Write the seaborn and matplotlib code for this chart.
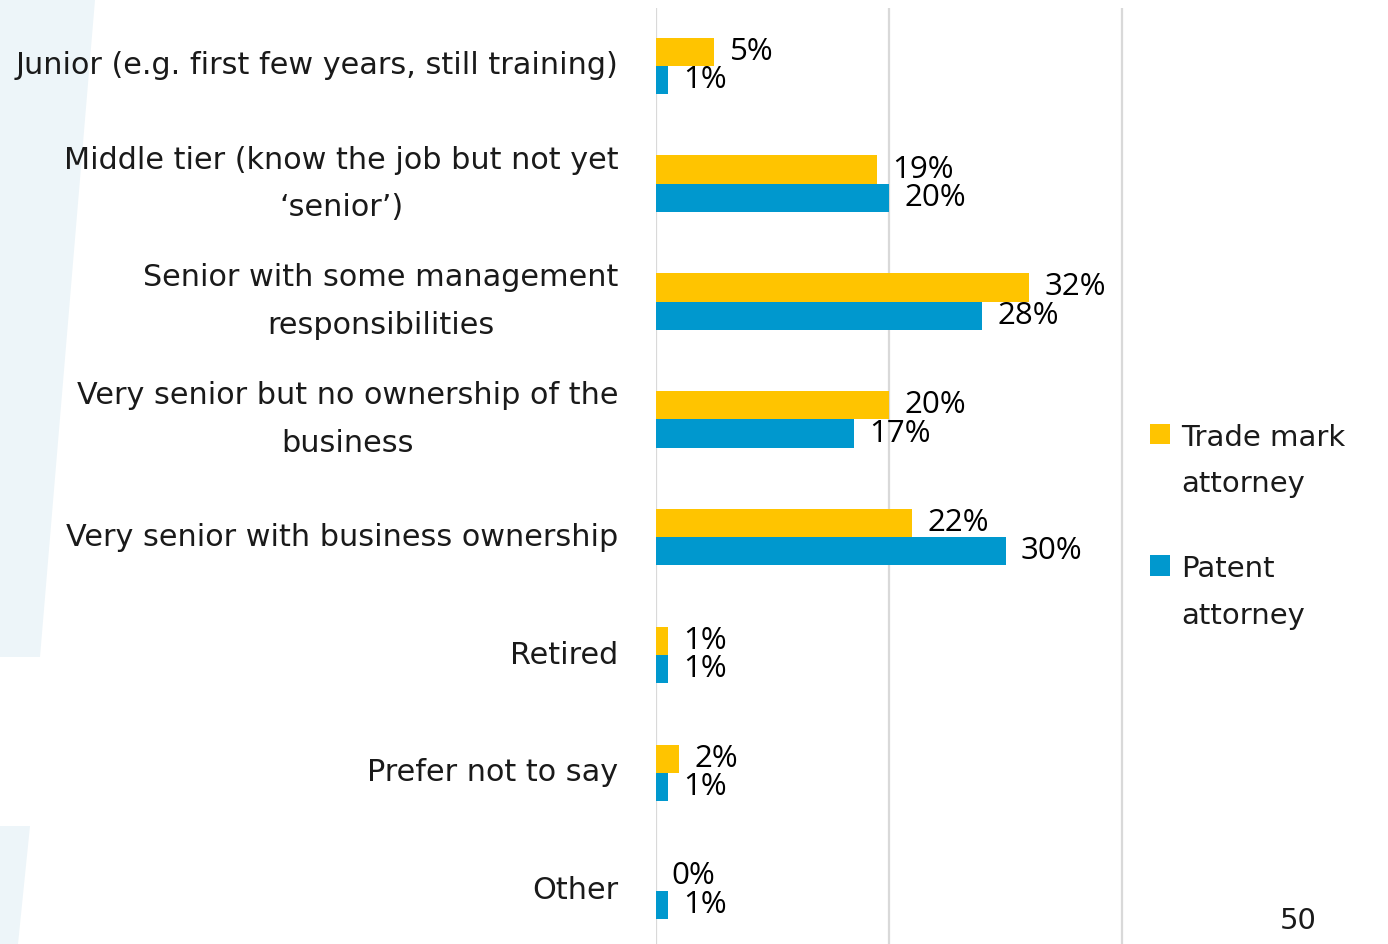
import matplotlib
matplotlib.use("Agg")
import matplotlib.pyplot as plt
from matplotlib.patches import Polygon
import seaborn as sns
import pandas as pd

categories = [
    "Junior (e.g. first few years, still training)",
    "Middle tier (know the job but not yet\n\u2018senior\u2019)",
    "Senior with some management\nresponsibilities",
    "Very senior but no ownership of the\nbusiness",
    "Very senior with business ownership",
    "Retired",
    "Prefer not to say",
    "Other",
]
trade_mark = [5, 19, 32, 20, 22, 1, 2, 0]
patent = [1, 20, 28, 17, 30, 1, 1, 1]
series_names = ["Trade mark\nattorney", "Patent\nattorney"]
colors = ["#FFC400", "#0098CE"]
page_number = "50"

sns.set_theme(style="white")
plt.rcParams["font.family"] = ["DejaVu Sans"]
TEXT = "#1a1a1a"

df = pd.DataFrame({
    "category": categories * 2,
    "value": [v / 100 for v in trade_mark] + [v / 100 for v in patent],
    "series": [series_names[0]] * len(categories) + [series_names[1]] * len(categories),
})

fig = plt.figure(figsize=(13.88, 9.44), dpi=100)

# light decorative band on the left edge, behind everything
W, H = 1388, 944
band_top = Polygon([(0, 1), (95 / W, 1), (40 / W, 1 - 657 / H), (0, 1 - 657 / H)],
                   closed=True, transform=fig.transFigure, facecolor="#EDF5F9",
                   edgecolor="none", zorder=-5)
band_bottom = Polygon([(0, 1 - 826 / H), (30 / W, 1 - 826 / H), (18 / W, 0), (0, 0)],
                      closed=True, transform=fig.transFigure, facecolor="#EDF5F9",
                      edgecolor="none", zorder=-5)
fig.patches.extend([band_top, band_bottom])

ax = fig.add_axes([656 / W, 0, (1355 - 656) / W, 936 / H])
ax.patch.set_alpha(0)

sns.barplot(data=df, y="category", x="value", hue="series", orient="h",
            palette=colors, width=0.48, gap=0, ax=ax, legend=True,
            saturation=1, linewidth=0)

ax.set_xlim(0, 0.6)
ax.set_ylim(7.453, -0.492)
ax.set_xticks([0, 0.2, 0.4])
ax.set_xticklabels([])
ax.tick_params(axis="x", length=0)
ax.grid(axis="x", color="#D9D9D9", linewidth=1.6)
ax.grid(axis="y", visible=False)
ax.set_axisbelow(True)
for s in ax.spines.values():
    s.set_visible(False)
ax.set_xlabel("")
ax.set_ylabel("")

ax.tick_params(axis="y", length=0, pad=27, labelsize=21.8, labelcolor=TEXT)
for t in ax.get_yticklabels():
    t.set_multialignment("center")
    t.set_linespacing(1.8)
    t.set_verticalalignment("center")

for cont, vals in zip(ax.containers, [trade_mark, patent]):
    ax.bar_label(cont, labels=[f"{v}%" for v in vals], padding=11,
                 fontsize=22.5, color="black", family="Open Sans")

leg = ax.legend(loc="upper left", bbox_to_anchor=(0.669, 0.584), frameon=False,
                fontsize=21, handlelength=0.7, handleheight=0.7,
                handletextpad=0.38, labelspacing=1.95)
for t in leg.get_texts():
    t.set_linespacing(1.85)
    t.set_color(TEXT)
# put each legend square level with the first line of its label
for col in leg._legend_handle_box.get_children():
    for row in col.get_children():
        row.align = "top"

fig.text(1317 / W, 1 - 921 / H, page_number, ha="right", va="center",
         fontsize=21, color=TEXT)

fig.savefig("out.png", dpi=100)
